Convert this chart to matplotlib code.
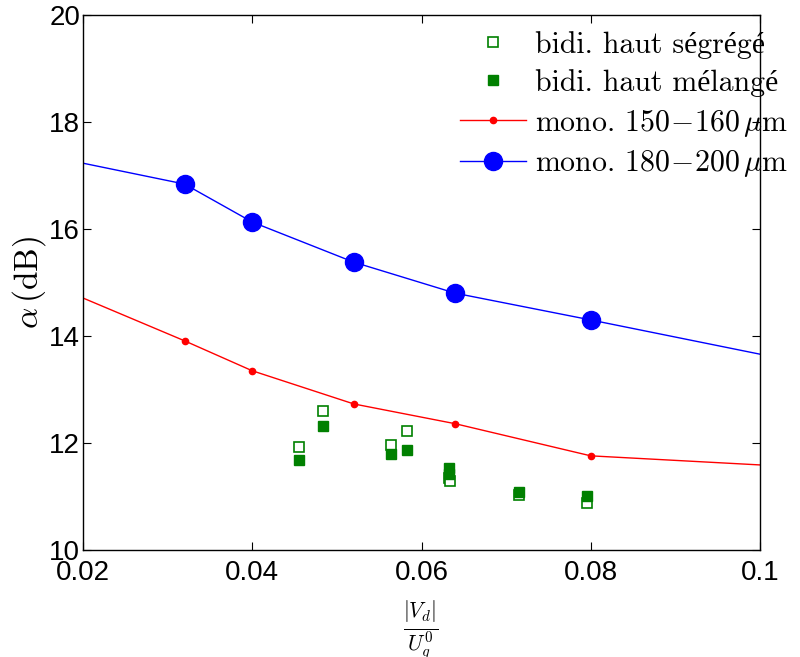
import matplotlib
matplotlib.use("Agg")
import matplotlib.pyplot as plt

plt.rcParams['mathtext.fontset'] = 'cm'
plt.rcParams['font.family'] = ['Liberation Sans', 'DejaVu Sans']

# mono 180-200 um (line extends to axis edges, markers at measured points)
blue_x = [0.02, 0.032, 0.040, 0.052, 0.064, 0.080, 0.10]
blue_y = [17.23, 16.84, 16.13, 15.38, 14.80, 14.30, 13.66]

# mono 150-160 um
red_x = [0.02, 0.032, 0.040, 0.052, 0.064, 0.080, 0.10]
red_y = [14.71, 13.91, 13.35, 12.73, 12.36, 11.76, 11.59]

# bidi. haut segrege (open squares)
seg_x = [0.0455, 0.0484, 0.0564, 0.0583, 0.0633, 0.0634, 0.0715, 0.0796]
seg_y = [11.93, 12.60, 11.96, 12.22, 11.35, 11.29, 11.02, 10.88]

# bidi. haut melange (filled squares)
mel_x = [0.0455, 0.0484, 0.0564, 0.0583, 0.0633, 0.0633, 0.0715, 0.0796]
mel_y = [11.68, 12.32, 11.79, 11.87, 11.53, 11.42, 11.08, 11.01]

serif = ['cmr10', 'Liberation Serif']

fig = plt.figure(figsize=(8, 6.57), dpi=100)
ax = fig.add_axes([83/800, 1-550/657, (760-83)/800, (550-15)/657])

ax.plot(seg_x, seg_y, 's', ls='none', mfc='white', mec='green', ms=7, mew=1.2,
        label='bidi. haut ségrégé')
ax.plot(mel_x, mel_y, 's', ls='none', color='green', ms=7,
        label='bidi. haut mélangé')
ax.plot(red_x, red_y, '-', color='red', lw=1, marker='o', ms=4.5,
        markevery=[1, 2, 3, 4, 5], label=r'mono. $150\!-\!160\,\mu$m')
ax.plot(blue_x, blue_y, '-', color='blue', lw=1, marker='o', ms=13,
        markevery=[1, 2, 3, 4, 5], label=r'mono. $180\!-\!200\,\mu$m')

ax.set_xlim(0.02, 0.1)
ax.set_ylim(10, 20)
ax.set_xticks([0.02, 0.04, 0.06, 0.08, 0.1])
ax.set_xticklabels(['0.02', '0.04', '0.06', '0.08', '0.1'])
ax.set_yticks([10, 12, 14, 16, 18, 20])
ax.tick_params(direction='in', length=6, width=0.8, labelsize=20,
               top=True, right=True, pad=2)
ax.tick_params(axis='x', pad=7)
for s in ax.spines.values():
    s.set_linewidth(1.0)

ax.set_ylabel(r'$\alpha\,$(dB)', fontsize=24, family=serif, labelpad=1)

fig.text(421/800, 1-631/657, r'$\frac{|V_d|}{U_g^0}$', fontsize=22,
         ha='center', va='center')

leg = ax.legend(loc='upper left', bbox_to_anchor=(460/800, 1-31/657),
                bbox_transform=fig.transFigure, frameon=False,
                prop={'family': serif, 'size': 21.5},
                handlelength=2.2, handletextpad=0.3, labelspacing=0.33,
                borderaxespad=0, borderpad=0)

fig.savefig('out.png', dpi=100)
